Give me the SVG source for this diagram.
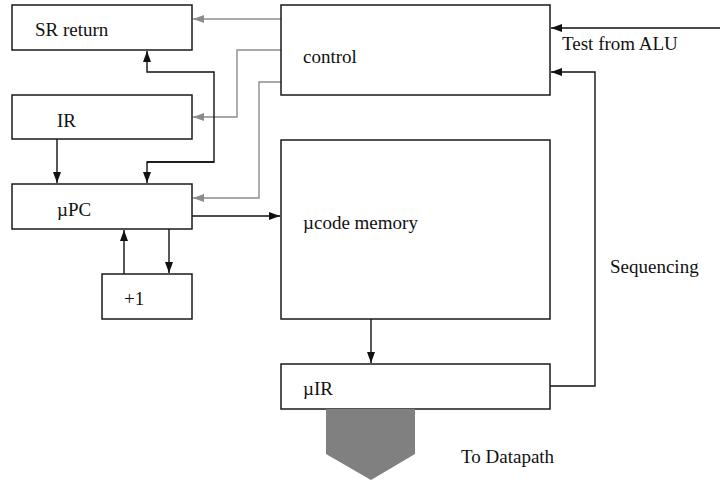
<svg xmlns="http://www.w3.org/2000/svg" width="720" height="480" viewBox="0 0 720 480">
<style>
.box{fill:#fff;stroke:#1a1a1a;stroke-width:1.5}
.t{font-family:"Liberation Serif","Times New Roman",serif;font-size:19px;fill:#111}
.k{fill:none;stroke:#111;stroke-width:1.4}
.g{fill:none;stroke:#8c8c8c;stroke-width:1.4}
</style>
<defs>
<marker id="ak" markerUnits="userSpaceOnUse" markerWidth="12" markerHeight="10" refX="11" refY="5" orient="auto"><path d="M0,1 L11,5 L0,9 Z" fill="#111"/></marker>
<marker id="ag" markerUnits="userSpaceOnUse" markerWidth="12" markerHeight="10" refX="11" refY="5" orient="auto"><path d="M0,1 L11,5 L0,9 Z" fill="#8c8c8c"/></marker>
</defs>
<g id="connectors">
<path class="g" d="M281,19 H193" marker-end="url(#ag)"/>
<path class="g" d="M281,50 H237 V117 H193" marker-end="url(#ag)"/>
<path class="g" d="M281,82 H259 V198 H193" marker-end="url(#ag)"/>
<path class="k" d="M147,162 H214 V72 H147 V51" marker-end="url(#ak)"/>
<path class="k" d="M214,162 H147 V183" marker-end="url(#ak)"/>
<path class="k" d="M57,139 V183" marker-end="url(#ak)"/>
<path class="k" d="M192,216 H280" marker-end="url(#ak)"/>
<path class="k" d="M124,274 V230" marker-end="url(#ak)"/>
<path class="k" d="M169,229 V273" marker-end="url(#ak)"/>
<path class="k" d="M371,319 V363" marker-end="url(#ak)"/>
<path class="k" d="M550,386 H595 V72 H551" marker-end="url(#ak)"/>
<path class="k" d="M720,28 H551" marker-end="url(#ak)"/>
</g>
<g id="sr-return"><rect class="box" x="12" y="5" width="180" height="45"/><text class="t" x="35" y="36">SR return</text></g>
<g id="ir"><rect class="box" x="12" y="95" width="180" height="44"/><text class="t" x="57" y="127">IR</text></g>
<g id="upc"><rect class="box" x="12" y="184" width="180" height="45"/><text class="t" x="57" y="216">µPC</text></g>
<g id="plus1"><rect class="box" x="102" y="274" width="90" height="45"/><text class="t" x="124" y="305">+1</text></g>
<g id="control"><rect class="box" x="281" y="5" width="269" height="90"/><text class="t" x="303" y="63">control</text></g>
<g id="ucode"><rect class="box" x="281" y="140" width="269" height="179"/><text class="t" x="303" y="229">µcode memory</text></g>
<g id="uir"><rect class="box" x="281" y="364" width="269" height="45"/><text class="t" x="303" y="395">µIR</text></g>
<g id="datapath-arrow"><path d="M326,409 H415 V454 L371,480 L326,454 Z" fill="#808080"/></g>
<text class="t" x="562" y="50">Test from ALU</text>
<text class="t" x="610" y="273">Sequencing</text>
<text class="t" x="461" y="463">To Datapath</text>
</svg>
